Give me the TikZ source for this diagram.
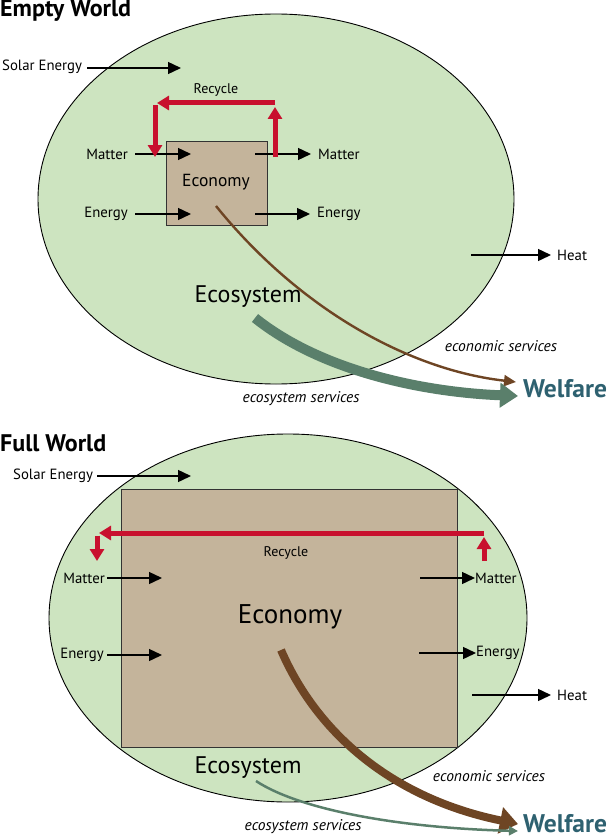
\documentclass[tikz,border=0pt]{standalone}
\usepackage{fontspec}
\setmainfont{PT Sans}
\usepackage{tikz}
\usetikzlibrary{arrows.meta,positioning}

\definecolor{ecogreen}{HTML}{CDE4C0}
\definecolor{econtan}{HTML}{C4B49B}
\definecolor{recred}{HTML}{C8102E}
\definecolor{econbrown}{HTML}{6E4524}
\definecolor{servgreen}{HTML}{5A7F6B}
\definecolor{welteal}{HTML}{2E6170}

\tikzset{
  ecosys/.style={draw=black,fill=ecogreen,line width=0.9pt},
  econbox/.style={draw=black!80,fill=econtan,line width=0.9pt},
  flow/.style={-{Triangle[length=13pt,width=12pt]},line width=1.4pt},
  recycle/.style={-{Triangle[length=12pt,width=14pt]},recred,line width=5pt},
  lbl/.style={inner sep=0pt,font=\fontsize{14.8}{17}\selectfont},
  title/.style={inner sep=0pt,anchor=west,font=\fontsize{24}{28}\selectfont\bfseries},
  serv/.style={inner sep=0pt,font=\fontsize{15.5}{18}\selectfont\itshape},
  welfare/.style={inner sep=0pt,anchor=west,text=welteal,font=\fontsize{25.5}{30}\selectfont\bfseries}
}

\begin{document}
\begin{tikzpicture}[x=1pt,y=-1pt]
            \useasboundingbox (0,0) rectangle (612,840);

            % empty world
            \node[title] (ewt) at (0,11) {Empty World};
            \draw[ecosys] (276,199) ellipse [x radius=238, y radius=185];
            \draw[econbox] (166,141) rectangle (267,225);
            \node[inner sep=0pt,font=\fontsize{17.5}{20}\selectfont] (econ1) at (216,182) {Economy};

            \node[lbl,anchor=west] (sol1) at (2,67) {Solar Energy};
            \coordinate (sol1e) at (181,68);
            \draw[flow] ([xshift=5pt,yshift=-1pt]sol1.east) -- (sol1e);

            \node[lbl,anchor=east] (min1) at (128,154) {Matter};
            \coordinate (min1e) at (191,154);
            \draw[flow] ([xshift=7pt]min1.east) -- (min1e);
            \node[lbl,anchor=east] (ein1) at (128,214) {Energy};
            \coordinate (ein1e) at (191,214);
            \draw[flow] ([xshift=7pt]ein1.east) -- (ein1e);

            \coordinate (mout1s) at (255,154);
            \node[lbl,anchor=west] (mout1) at (318,154) {Matter};
            \draw[flow] (mout1s) -- ([xshift=-7pt]mout1.west);
            \coordinate (eout1s) at (255,214);
            \node[lbl,anchor=west] (eout1) at (317,214) {Energy};
            \draw[flow] (eout1s) -- ([xshift=-7pt]eout1.west);

            \coordinate (heat1s) at (471,255);
            \node[lbl,anchor=west] (heat1) at (557,255) {Heat};
            \draw[flow] (heat1s) -- ([xshift=-6pt]heat1.west);

            % recycle loop
            \node[lbl,font=\fontsize{14}{16}\selectfont] (rec1) at (216,90) {Recycle};
            \coordinate (rr1) at (275,157);
            \coordinate (rt1) at (275,103);
            \coordinate (lt1) at (155,103);
            \coordinate (ld1) at (155,157);
            \draw[recycle] (rr1) -- ([yshift=-4pt]rt1);
            \draw[recycle] (rt1) -- ([xshift=2pt]lt1);
            \draw[recycle] ([yshift=-2.5pt]lt1) -- (ld1);

            \node[inner sep=0pt,font=\fontsize{24}{28}\selectfont] (eco1) at (248,297) {Ecosystem};
            \node[serv] (es1) at (501,346) {economic services};
            \node[serv] (ss1) at (301,399) {ecosystem services};
            \node[welfare] (wel1) at (523,389) {Welfare};

            \coordinate (b1s) at (216,206);
            \coordinate (b1e) at (516,382);
            \draw[econbrown,line width=2.4pt,-{Triangle[length=12pt,width=11pt]}]
                (b1s) .. controls (300,310) and (410,370) .. (b1e);
            \coordinate (g1s) at (255,318);
            \coordinate (g1e) at (518,396);
            \draw[servgreen,line width=10pt,-{Triangle[length=18pt,width=24pt]}]
                (g1s) .. controls (320,370) and (420,392) .. (g1e);

            % full world
            \node[title] (fwt) at (0,443) {Full World};
            \draw[ecosys] (288,618) ellipse [x radius=239, y radius=184];
            \draw[econbox] (121,489) rectangle (457,747);
            \node[inner sep=0pt,font=\fontsize{27}{32}\selectfont] (econ2) at (290,617) {Economy};

            \node[lbl,anchor=west] (sol2) at (13,476) {Solar Energy};
            \coordinate (sol2e) at (191,476);
            \draw[flow] ([xshift=4pt]sol2.east) -- (sol2e);

            \node[lbl,anchor=east] (min2) at (105,578) {Matter};
            \coordinate (min2e) at (162,578);
            \draw[flow] ([xshift=2pt]min2.east) -- (min2e);
            \node[lbl,anchor=east] (ein2) at (104,655) {Energy};
            \coordinate (ein2e) at (162,655);
            \draw[flow] ([xshift=3pt]ein2.east) -- (ein2e);

            \coordinate (mout2s) at (420,578);
            \node[lbl,anchor=west] (mout2) at (475,578) {Matter};
            \draw[flow] (mout2s) -- (mout2.west);
            \coordinate (eout2s) at (419,653);
            \node[lbl,anchor=west] (eout2) at (476,653) {Energy};
            \draw[flow] (eout2s) -- (eout2.west);

            \coordinate (heat2s) at (472,695);
            \node[lbl,anchor=west] (heat2) at (557,695) {Heat};
            \draw[flow] (heat2s) -- ([xshift=-6pt]heat2.west);

            % recycle loop
            \node[lbl,font=\fontsize{14}{16}\selectfont] (rec2) at (286,553) {Recycle};
            \coordinate (rr2) at (484,561);
            \coordinate (rt2) at (484,533);
            \coordinate (lt2) at (97,533);
            \coordinate (ld2) at (97,561);
            \draw[recycle] (rr2) -- ([yshift=-4pt]rt2);
            \draw[recycle] (rt2) -- ([xshift=2pt]lt2);
            \draw[recycle] ([yshift=-2.5pt]lt2) -- (ld2);

            \node[inner sep=0pt,font=\fontsize{24}{28}\selectfont] (eco2) at (248,768) {Ecosystem};
            \node[serv] (es2) at (489,776) {economic services};
            \node[serv] (ss2) at (303,827) {ecosystem services};
            \node[welfare] (wel2) at (523,824) {Welfare};

            \coordinate (b2s) at (281,650);
            \coordinate (b2e) at (518,824);
            \draw[econbrown,line width=8pt,-{Triangle[length=18pt,width=26pt]}]
                (b2s) .. controls (320,740) and (400,800) .. (b2e);
            \coordinate (g2s) at (256,781);
            \coordinate (g2e) at (518,831);
            \draw[servgreen,line width=2.5pt,-{Triangle[length=9pt,width=9pt]}]
                (g2s) .. controls (300,810) and (400,828) .. (g2e);
        \end{tikzpicture}
\end{document}
